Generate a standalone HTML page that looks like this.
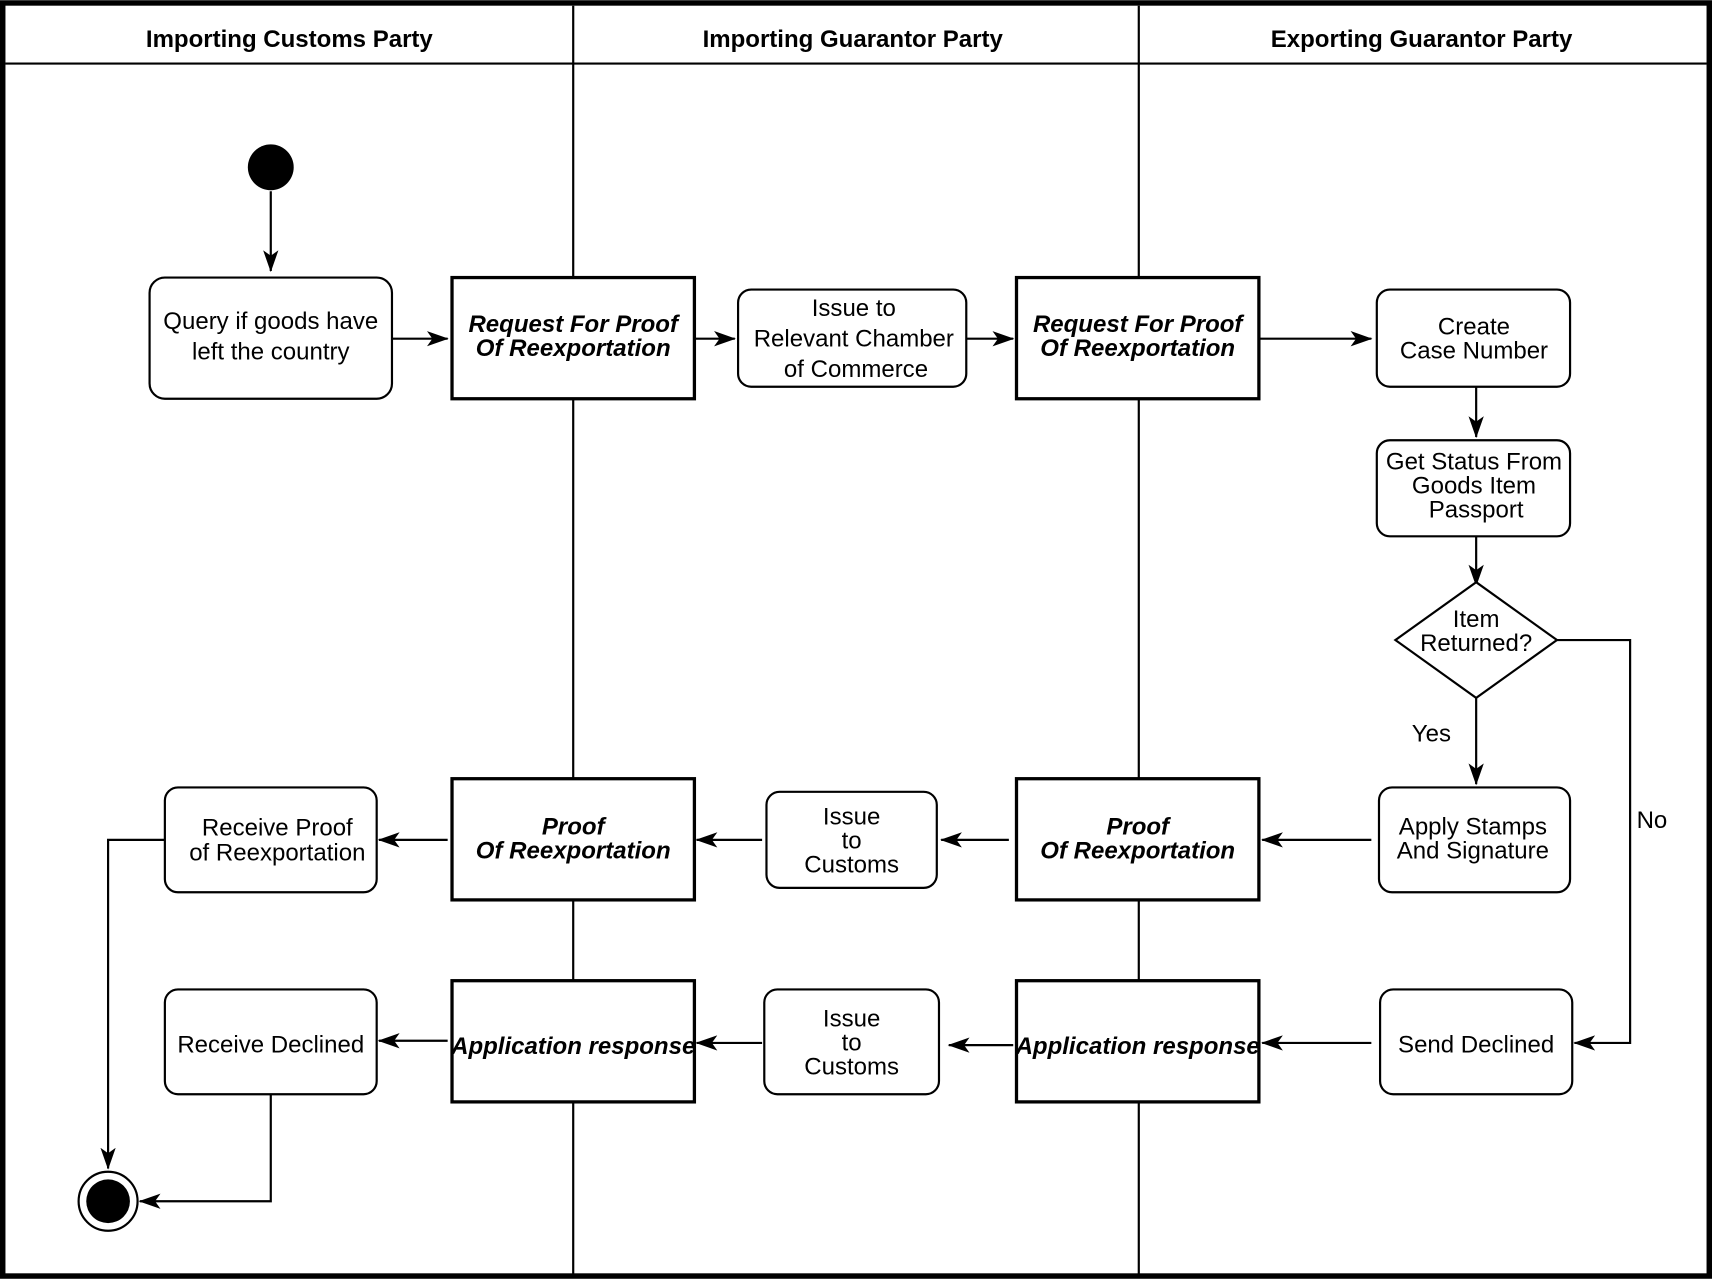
<!DOCTYPE html>
<html><head><meta charset="utf-8"><style>
html,body{margin:0;padding:0;background:#fff}
svg{display:block}
text{font-family:"Liberation Sans",Arial,sans-serif;font-size:22px;fill:#000}
.h{font-weight:bold;font-size:22px}
.b{font-weight:bold;font-style:italic}
</style></head><body>
<svg width="1712" height="1279" viewBox="0 0 1568 1171" xmlns="http://www.w3.org/2000/svg">
<defs>
<marker id="a" markerWidth="20" markerHeight="14" refX="19" refY="7" orient="auto" markerUnits="userSpaceOnUse">
<path d="M0,0 L20,7 L0,14 L5,7 Z" fill="#000"/>
</marker>
</defs>
<rect x="0" y="0" width="1568" height="1171" fill="#fff"/>
<rect x="2.5" y="2.5" width="1563" height="1166" fill="none" stroke="#000" stroke-width="5"/>
<line x1="5" y1="58" x2="1563" y2="58" stroke="#000" stroke-width="2"/>
<line x1="525" y1="5" x2="525" y2="1168" stroke="#000" stroke-width="2"/>
<line x1="1043" y1="5" x2="1043" y2="1168" stroke="#000" stroke-width="2"/>
<text class="h" x="265" y="43" text-anchor="middle">Importing Customs Party</text>
<text class="h" x="781" y="43" text-anchor="middle">Importing Guarantor Party</text>
<text class="h" x="1302" y="43" text-anchor="middle">Exporting Guarantor Party</text>

<g fill="none" stroke="#000" stroke-width="2">
<line x1="248" y1="175" x2="248" y2="248" marker-end="url(#a)"/>
<line x1="359" y1="310" x2="410" y2="310" marker-end="url(#a)"/>
<line x1="636" y1="310" x2="673" y2="310" marker-end="url(#a)"/>
<line x1="885" y1="310" x2="928" y2="310" marker-end="url(#a)"/>
<line x1="1153" y1="310" x2="1256" y2="310" marker-end="url(#a)"/>
<line x1="1352" y1="354" x2="1352" y2="400" marker-end="url(#a)"/>
<line x1="1352" y1="491" x2="1352" y2="536" marker-end="url(#a)"/>
<line x1="1352" y1="639" x2="1352" y2="718" marker-end="url(#a)"/>
<polyline points="1426,586 1493,586 1493,955 1442,955" marker-end="url(#a)"/>
<line x1="1256" y1="769" x2="1156" y2="769" marker-end="url(#a)"/>
<line x1="924" y1="769" x2="862" y2="769" marker-end="url(#a)"/>
<line x1="698" y1="769" x2="638" y2="769" marker-end="url(#a)"/>
<line x1="410" y1="769" x2="347" y2="769" marker-end="url(#a)"/>
<line x1="1256" y1="955" x2="1156" y2="955" marker-end="url(#a)"/>
<line x1="928" y1="957" x2="869" y2="957" marker-end="url(#a)"/>
<line x1="698" y1="955" x2="638" y2="955" marker-end="url(#a)"/>
<line x1="410" y1="953" x2="347" y2="953" marker-end="url(#a)"/>
<polyline points="151,769 99,769 99,1070" marker-end="url(#a)"/>
<polyline points="248,1002 248,1100 128,1100" marker-end="url(#a)"/>
</g>

<circle cx="248" cy="153" r="21" fill="#000"/>
<circle cx="99" cy="1100" r="27" fill="#fff" stroke="#000" stroke-width="2"/>
<circle cx="99" cy="1100" r="20" fill="#000"/>

<g fill="#fff" stroke="#000" stroke-width="2">
<rect x="137" y="254" width="222" height="111" rx="14"/>
<rect x="676" y="265" width="209" height="89" rx="12"/>
<rect x="1261" y="265" width="177" height="89" rx="12"/>
<rect x="1261" y="403" width="177" height="88" rx="12"/>
<polygon points="1352,533 1426,586 1352,639 1278,586"/>
<rect x="1263" y="721" width="175" height="96" rx="12"/>
<rect x="702" y="725" width="156" height="88" rx="12"/>
<rect x="151" y="721" width="194" height="96" rx="12"/>
<rect x="700" y="906" width="160" height="96" rx="12"/>
<rect x="151" y="906" width="194" height="96" rx="12"/>
<rect x="1264" y="906" width="176" height="96" rx="12"/>
</g>
<g fill="#fff" stroke="#000" stroke-width="3">
<rect x="414" y="254" width="222" height="111"/>
<rect x="931" y="254" width="222" height="111"/>
<rect x="414" y="713" width="222" height="111"/>
<rect x="931" y="713" width="222" height="111"/>
<rect x="414" y="898" width="222" height="111"/>
<rect x="931" y="898" width="222" height="111"/>
</g>

<g text-anchor="middle">
<text x="248" y="301">Query if goods have</text>
<text x="248" y="329">left the country</text>
<text class="b" x="525" y="304">Request For Proof</text>
<text class="b" x="525" y="326">Of Reexportation</text>
<text class="b" x="1042" y="304">Request For Proof</text>
<text class="b" x="1042" y="326">Of Reexportation</text>
<text x="782" y="289">Issue to</text>
<text x="782" y="317">Relevant Chamber</text>
<text x="784" y="345">of Commerce</text>
<text x="1350" y="306">Create</text>
<text x="1350" y="328">Case Number</text>
<text x="1350" y="430">Get Status From</text>
<text x="1350" y="452">Goods Item</text>
<text x="1352" y="474">Passport</text>
<text x="1352" y="574">Item</text>
<text x="1352" y="596">Returned?</text>
<text x="1349" y="764">Apply Stamps</text>
<text x="1349" y="786">And Signature</text>
<text class="b" x="525" y="764">Proof</text>
<text class="b" x="525" y="786">Of Reexportation</text>
<text class="b" x="1042" y="764">Proof</text>
<text class="b" x="1042" y="786">Of Reexportation</text>
<text x="780" y="755">Issue</text>
<text x="780" y="777">to</text>
<text x="780" y="799">Customs</text>
<text x="254" y="765">Receive Proof</text>
<text x="254" y="788">of Reexportation</text>
<text class="b" x="525" y="965">Application response</text>
<text class="b" x="1042" y="965">Application response</text>
<text x="780" y="940">Issue</text>
<text x="780" y="962">to</text>
<text x="780" y="984">Customs</text>
<text x="248" y="964">Receive Declined</text>
<text x="1352" y="964">Send Declined</text>
<text x="1311" y="679">Yes</text>
<text x="1513" y="758">No</text>
</g>
</svg>
</body></html>
